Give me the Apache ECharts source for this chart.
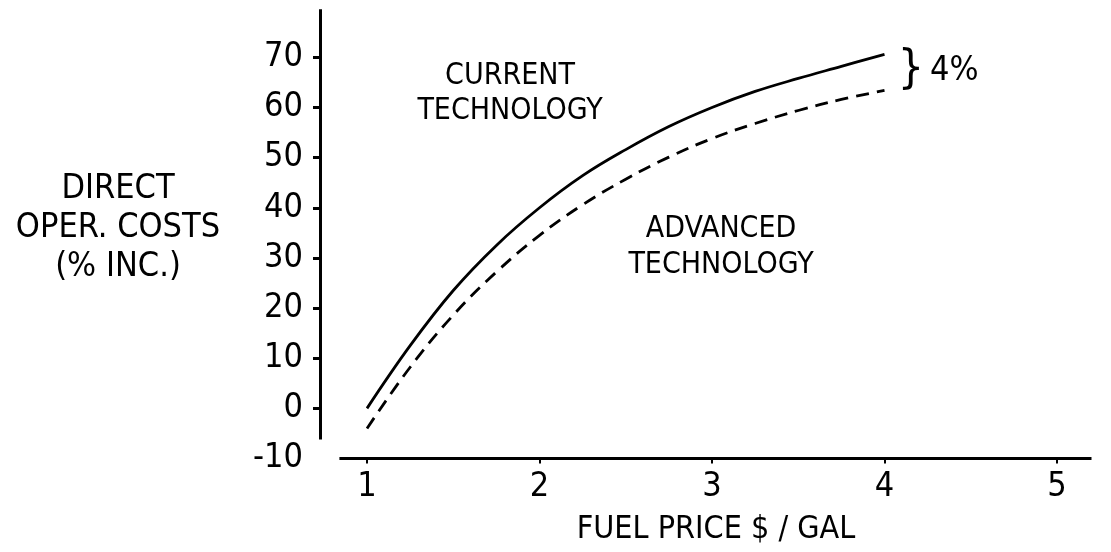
<!DOCTYPE html>
<html>
<head>
<meta charset="utf-8">
<script src="https://cdn.jsdelivr.net/npm/echarts@6/dist/echarts.min.js"></script>
<style>
html,body{margin:0;padding:0;background:#fff;}
#chart{width:1111px;height:552px;}
</style>
</head>
<body>
<div id="chart"></div>
<script>
// ---- data ----
const fuelPrice    = [1, 1.25, 1.5, 1.75, 2, 2.25, 2.5, 2.75, 3, 3.25, 3.5, 3.75, 4];
const currentTech  = [0, 12.5, 23.5, 32.5, 40, 46.4, 51.6, 56.2, 60, 63.2, 65.8, 68.2, 70.6];
const advancedTech = [-4, 8.2, 18.6, 27.2, 34.5, 40.6, 45.7, 50.1, 53.8, 56.8, 59.4, 61.6, 63.4];
const xTicks = [1, 2, 3, 4, 5];
const yLabels = [-10, 0, 10, 20, 30, 40, 50, 60, 70];
const yTicks = [0, 10, 20, 30, 40, 50, 60, 70];
const xAxisTitle = 'FUEL PRICE $ / GAL';
const yAxisTitle = ['DIRECT', 'OPER. COSTS', '(% INC.)'];
const currentLabel = ['CURRENT', 'TECHNOLOGY'];
const advancedLabel = ['ADVANCED', 'TECHNOLOGY'];
const gapLabel = '4%';

const FONT = "'DejaVu Sans Condensed', 'Liberation Sans Narrow', 'DejaVu Sans', sans-serif";
const INK = '#000';

const chart = echarts.init(document.getElementById('chart'), null, {renderer: 'canvas'});

const toPairs = (xs, ys) => xs.map((x, i) => [x, ys[i]]);

chart.setOption({
  animation: false,
  backgroundColor: '#fff',
  grid: {left: 320, right: 19.5, top: 7.2, bottom: 93.5, containLabel: false},
  xAxis: {
    type: 'value', min: 0.7275, max: 5.2,
    axisLine: {show: false, onZero: false},
    splitLine: {show: false},
    axisTick: {show: true, customValues: xTicks, length: 5, lineStyle: {color: INK, width: 2}},
    axisLabel: {customValues: xTicks, color: INK, fontFamily: FONT, fontSize: 34, margin: 12}
  },
  yAxis: {
    type: 'value', min: -10, max: 80,
    axisLine: {show: false, onZero: false},
    splitLine: {show: false},
    axisTick: {show: true, customValues: yTicks, length: 7, lineStyle: {color: INK, width: 3}},
    axisLabel: {customValues: yLabels, color: INK, fontFamily: FONT, fontSize: 34, margin: 17}
  },
  series: [
    {
      name: 'CURRENT TECHNOLOGY', type: 'line', smooth: 0.4, symbol: 'none',
      data: toPairs(fuelPrice, currentTech),
      lineStyle: {color: INK, width: 2.8}
    },
    {
      name: 'ADVANCED TECHNOLOGY', type: 'line', smooth: 0.4, symbol: 'none',
      data: toPairs(fuelPrice, advancedTech),
      lineStyle: {color: INK, width: 2.8, type: [13, 8]}
    },
    {
      name: 'axes', type: 'line', data: [], clip: false, silent: true,
      markLine: {
        silent: true, symbol: 'none', label: {show: false},
        lineStyle: {color: INK, width: 3, type: 'solid'},
        data: [
          [{coord: [0.84, -10]}, {coord: [5.2, -10]}],
          [{coord: [0.7275, -6.2]}, {coord: [0.7275, 79.6]}]
        ]
      }
    }
  ],
  graphic: [
    {type: 'text', x: 716, y: 530, style: {text: xAxisTitle, font: "32px " + FONT, fill: INK, textAlign: 'center', textVerticalAlign: 'middle'}},
    {type: 'text', x: 118, y: 228, style: {text: yAxisTitle.join('\n'), font: "34px " + FONT, lineHeight: 39, fill: INK, textAlign: 'center', textVerticalAlign: 'middle'}},
    {type: 'text', x: 510, y: 94, style: {text: currentLabel.join('\n'), font: "30px " + FONT, lineHeight: 35, fill: INK, textAlign: 'center', textVerticalAlign: 'middle'}},
    {type: 'text', x: 721, y: 247, style: {text: advancedLabel.join('\n'), font: "30px " + FONT, lineHeight: 36, fill: INK, textAlign: 'center', textVerticalAlign: 'middle'}},
    {type: 'text', x: 911, y: 70, style: {text: '}', font: "46px " + FONT, fill: INK, textAlign: 'center', textVerticalAlign: 'middle'}},
    {type: 'text', x: 930, y: 71, style: {text: gapLabel, font: "34px " + FONT, fill: INK, textAlign: 'left', textVerticalAlign: 'middle'}}
  ]
});
</script>
</body>
</html>
